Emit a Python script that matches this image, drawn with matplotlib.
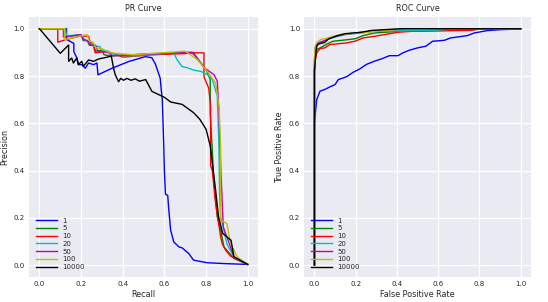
import matplotlib
matplotlib.use("Agg")

import matplotlib.pyplot as plt

# legend labels and line colours, one per curve
labels = ["1", "5", "10", "20", "50", "100", "10000"]
colors = ["b", "g", "r", "c", "m", "y", "k"]

# PR curves: recall / precision
pr_recall_1 = [0, 0.13, 0.13, 0.165, 0.165, 0.18, 0.187, 0.203, 0.22, 0.236, 0.26, 0.276,
               0.281, 0.349, 0.428, 0.509, 0.54, 0.557, 0.58, 0.585, 0.59, 0.597, 0.600,
               0.605, 0.616, 0.62, 0.63, 0.645, 0.67, 0.685, 0.717, 0.74, 0.806, 0.9, 1.0]
pr_precision_1 = [1.0, 1.0, 0.955, 0.938, 0.903, 0.876, 0.848, 0.848, 0.833, 0.855, 0.848,
                  0.855, 0.805, 0.833, 0.861, 0.882, 0.877, 0.85, 0.79, 0.74, 0.70, 0.505,
                  0.40, 0.30, 0.295, 0.246, 0.148, 0.098, 0.077, 0.073, 0.049, 0.021,
                  0.010, 0.006, 0.003]

pr_recall_5 = [0, 0.12, 0.12, 0.2, 0.21, 0.23, 0.24, 0.26, 0.27, 0.30, 0.31, 0.34, 0.45,
               0.6, 0.74, 0.758, 0.78, 0.80, 0.82, 0.82, 0.83, 0.838, 0.854, 0.87, 0.886,
               0.934, 1.0]
pr_precision_5 = [1.0, 1.0, 0.965, 0.975, 0.95, 0.95, 0.93, 0.93, 0.905, 0.91, 0.89, 0.885,
                  0.89, 0.897, 0.9, 0.87, 0.85, 0.827, 0.785, 0.645, 0.485, 0.345, 0.204,
                  0.148, 0.077, 0.028, 0.003]

pr_recall_10 = [0, 0.088, 0.088, 0.13, 0.20, 0.236, 0.245, 0.26, 0.268, 0.324, 0.40, 0.55,
                0.70, 0.742, 0.79, 0.79, 0.813, 0.822, 0.822, 0.83, 0.846, 0.87, 0.878,
                0.894, 0.918, 1.0]
pr_precision_10 = [1.0, 1.0, 0.943, 0.955, 0.97, 0.968, 0.94, 0.925, 0.898, 0.905, 0.88,
                   0.89, 0.895, 0.898, 0.898, 0.797, 0.748, 0.67, 0.42, 0.40, 0.26, 0.12,
                   0.09, 0.063, 0.038, 0.003]

pr_recall_20 = [0, 0.125, 0.13, 0.20, 0.22, 0.25, 0.26, 0.29, 0.30, 0.33, 0.35, 0.45, 0.55,
                0.645, 0.66, 0.685, 0.71, 0.74, 0.774, 0.806, 0.83, 0.854, 0.862, 0.865,
                0.87, 0.886, 0.90, 0.934, 1.0]
pr_precision_20 = [1.0, 1.0, 0.97, 0.975, 0.95, 0.945, 0.925, 0.925, 0.91, 0.905, 0.889,
                   0.885, 0.892, 0.898, 0.87, 0.84, 0.835, 0.825, 0.82, 0.806, 0.785, 0.715,
                   0.505, 0.30, 0.204, 0.148, 0.09, 0.035, 0.003]

pr_recall_50 = [0, 0.115, 0.115, 0.20, 0.21, 0.23, 0.245, 0.27, 0.28, 0.33, 0.35, 0.45, 0.6,
                0.73, 0.758, 0.79, 0.838, 0.854, 0.862, 0.87, 0.878, 0.883, 0.90, 0.934, 1.0]
pr_precision_50 = [1.0, 1.0, 0.965, 0.975, 0.955, 0.95, 0.93, 0.93, 0.905, 0.9, 0.885, 0.89,
                   0.895, 0.9, 0.877, 0.835, 0.806, 0.778, 0.645, 0.43, 0.26, 0.16, 0.12,
                   0.035, 0.003]

pr_recall_100 = [0, 0.12, 0.12, 0.228, 0.24, 0.26, 0.27, 0.30, 0.34, 0.45, 0.70, 0.758,
                 0.806, 0.846, 0.862, 0.87, 0.87, 0.886, 0.90, 0.918, 0.95, 1.0]
pr_precision_100 = [1.0, 1.0, 0.954, 0.975, 0.95, 0.94, 0.92, 0.915, 0.898, 0.89, 0.905,
                    0.87, 0.82, 0.77, 0.673, 0.505, 0.19, 0.183, 0.176, 0.09, 0.035, 0.003]

pr_recall_10000 = [0, 0.10, 0.14, 0.14, 0.155, 0.163, 0.179, 0.187, 0.203, 0.211, 0.236,
                   0.26, 0.284, 0.316, 0.345, 0.356, 0.364, 0.38, 0.39, 0.404, 0.42, 0.44,
                   0.46, 0.48, 0.51, 0.54, 0.60, 0.63, 0.685, 0.74, 0.77, 0.80, 0.82, 0.846,
                   0.86, 0.88, 0.92, 0.934, 1.0]
pr_precision_10000 = [1.0, 0.896, 0.931, 0.862, 0.876, 0.855, 0.876, 0.848, 0.862, 0.841,
                      0.868, 0.862, 0.872, 0.878, 0.884, 0.833, 0.805, 0.776, 0.79, 0.782,
                      0.79, 0.782, 0.788, 0.778, 0.785, 0.735, 0.71, 0.69, 0.68, 0.645,
                      0.617, 0.575, 0.505, 0.316, 0.204, 0.134, 0.105, 0.035, 0.003]

# ROC curves: false positive rate / true positive rate
roc_fpr_1 = [0, 0, 0.011, 0.027, 0.05, 0.075, 0.10, 0.116, 0.156, 0.188, 0.22, 0.252, 0.292,
             0.324, 0.364, 0.405, 0.429, 0.46, 0.50, 0.54, 0.573, 0.63, 0.66, 0.742, 0.774,
             0.838, 0.90, 0.966, 1.0]
roc_tpr_1 = [0, 0.603, 0.70, 0.736, 0.743, 0.754, 0.764, 0.785, 0.797, 0.816, 0.83, 0.849,
             0.863, 0.872, 0.886, 0.886, 0.898, 0.909, 0.919, 0.926, 0.947, 0.951, 0.961,
             0.971, 0.982, 0.992, 0.996, 0.998, 1.0]

roc_fpr_5 = [0, 0, 0.005, 0.011, 0.03, 0.06, 0.09, 0.164, 0.2, 0.236, 0.292, 0.405, 0.774,
             0.82, 1.0]
roc_tpr_5 = [0, 0.83, 0.89, 0.912, 0.92, 0.935, 0.947, 0.954, 0.958, 0.971, 0.982, 0.989,
             0.996, 1.0, 1.0]

roc_fpr_10 = [0, 0, 0.005, 0.011, 0.027, 0.05, 0.075, 0.156, 0.196, 0.236, 0.292, 0.405,
              0.469, 0.758, 0.806, 1.0]
roc_tpr_10 = [0, 0.82, 0.87, 0.898, 0.916, 0.919, 0.933, 0.94, 0.947, 0.961, 0.968, 0.985,
              0.989, 0.993, 1.0, 1.0]

roc_fpr_20 = [0, 0, 0.005, 0.011, 0.04, 0.06, 0.10, 0.15, 0.292, 0.58, 0.70, 1.0]
roc_tpr_20 = [0, 0.85, 0.9, 0.933, 0.945, 0.955, 0.965, 0.975, 0.989, 0.993, 1.0, 1.0]

roc_fpr_50 = [0, 0, 0.004, 0.015, 0.05, 0.08, 0.12, 0.16, 0.28, 0.38, 0.45, 1.0]
roc_tpr_50 = [0, 0.86, 0.92, 0.94, 0.95, 0.962, 0.972, 0.978, 0.99, 0.996, 1.0, 1.0]

roc_fpr_100 = [0, 0, 0.003, 0.01, 0.03, 0.06, 0.09, 0.13, 0.25, 0.35, 0.43, 1.0]
roc_tpr_100 = [0, 0.87, 0.925, 0.94, 0.954, 0.96, 0.968, 0.976, 0.985, 0.993, 1.0, 1.0]

roc_fpr_10000 = [0, 0, 0.005, 0.011, 0.019, 0.05, 0.067, 0.108, 0.148, 0.228, 0.276, 0.42, 1.0]
roc_tpr_10000 = [0, 0.82, 0.88, 0.926, 0.935, 0.942, 0.956, 0.97, 0.979, 0.985, 0.993, 1.0, 1.0]

pr_x = [pr_recall_1, pr_recall_5, pr_recall_10, pr_recall_20, pr_recall_50, pr_recall_100,
        pr_recall_10000]
pr_y = [pr_precision_1, pr_precision_5, pr_precision_10, pr_precision_20, pr_precision_50,
        pr_precision_100, pr_precision_10000]
roc_x = [roc_fpr_1, roc_fpr_5, roc_fpr_10, roc_fpr_20, roc_fpr_50, roc_fpr_100, roc_fpr_10000]
roc_y = [roc_tpr_1, roc_tpr_5, roc_tpr_10, roc_tpr_20, roc_tpr_50, roc_tpr_100, roc_tpr_10000]

TEXT = "#262626"
TICKS = [0.0, 0.2, 0.4, 0.6, 0.8, 1.0]


def style_axes(ax, title, xlabel, ylabel):
    ax.set_facecolor("#EAEAF2")
    for s in ax.spines.values():
        s.set_visible(False)
    ax.grid(True, color="white", linewidth=0.9)
    ax.set_axisbelow(True)
    ax.set_xlim(-0.05, 1.05)
    ax.set_ylim(-0.05, 1.05)
    ax.set_xticks(TICKS)
    ax.set_yticks(TICKS)
    ax.tick_params(length=0, labelsize=5, labelcolor=TEXT, pad=3)
    ax.set_title(title, fontsize=5.8, color=TEXT, pad=4)
    ax.set_xlabel(xlabel, fontsize=5.8, color=TEXT, labelpad=2)
    ax.set_ylabel(ylabel, fontsize=5.8, color=TEXT, labelpad=3)
    leg = ax.legend(loc="lower left", fontsize=5, frameon=False, handlelength=3,
                    labelspacing=0.25, borderaxespad=0.6, handletextpad=0.8)
    for t in leg.get_texts():
        t.set_color(TEXT)


fig = plt.figure(figsize=(5.48, 3.02), dpi=100)
ax1 = fig.add_axes([0.053, 0.083, 0.418, 0.861])
ax2 = fig.add_axes([0.555, 0.083, 0.414, 0.861])

for xs, ys, c, lab in zip(pr_x, pr_y, colors, labels):
    ax1.plot(xs, ys, color=c, linewidth=1.0, label=lab)
style_axes(ax1, "PR Curve", "Recall", "Precision")

for xs, ys, c, lab in zip(roc_x, roc_y, colors, labels):
    ax2.plot(xs, ys, color=c, linewidth=1.0, label=lab)
style_axes(ax2, "ROC Curve", "False Positive Rate", "True Positive Rate")

fig.savefig("out.png", dpi=100, facecolor="white")
